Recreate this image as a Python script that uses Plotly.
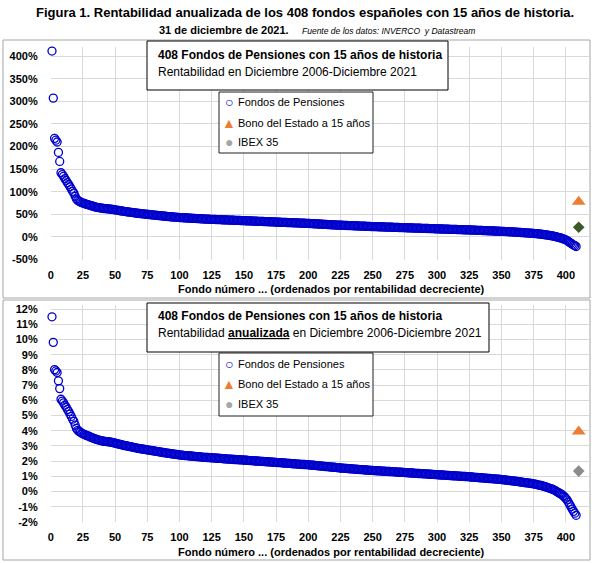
import plotly.graph_objects as go

W, H = 592, 563

# ---------------- data ----------------
fund_cum = [  # cumulative return Dec 2006 - Dec 2021, %
    411, 307, 218, 214, 210, 187, 167, 142, 138, 134, 129, 125, 120, 116, 111, 106, 101, 97, 90, 84, 81, 79, 77.5, 76, 75,
    74, 73, 72, 71.5, 70.5, 69.5, 68.5, 68, 67, 66, 65.5, 65, 64.5, 64, 63.5, 63, 62.8, 62.5, 62.2, 62, 61.7, 61.3, 61, 60.5, 60,
    59.5, 59, 58.5, 58, 57.5, 57, 56.6, 56.2, 55.8, 55.4, 55, 54.6, 54.2, 53.8, 53.4, 53, 52.6, 52.2, 51.9, 51.6, 51.3, 51, 50.7, 50.4, 50,
    49.7, 49.4, 49.1, 48.8, 48.5, 48.2, 47.9, 47.6, 47.3, 47, 46.7, 46.4, 46.1, 45.8, 45.5, 45.2, 45, 44.7, 44.5, 44.2, 44, 43.7, 43.5, 43.2, 43,
    42.8, 42.7, 42.5, 42.3, 42.2, 42, 41.8, 41.7, 41.5, 41.3, 41.2, 41, 40.8, 40.7, 40.5, 40.3, 40.2, 40, 39.8, 39.7, 39.5, 39.4, 39.3, 39.1, 39,
    38.9, 38.8, 38.6, 38.5, 38.4, 38.3, 38.2, 38, 37.9, 37.8, 37.7, 37.6, 37.4, 37.3, 37.2, 37.1, 37, 36.8, 36.7, 36.6, 36.5, 36.4, 36.2, 36.1, 36,
    35.9, 35.8, 35.6, 35.5, 35.4, 35.3, 35.2, 35, 34.9, 34.8, 34.7, 34.6, 34.4, 34.3, 34.2, 34.1, 34, 33.8, 33.7, 33.6, 33.5, 33.4, 33.2, 33.1, 33,
    32.9, 32.8, 32.6, 32.5, 32.4, 32.3, 32.2, 32, 31.9, 31.8, 31.7, 31.6, 31.4, 31.3, 31.2, 31.1, 31, 30.8, 30.7, 30.6, 30.5, 30.4, 30.2, 30.1, 30,
    29.8, 29.7, 29.5, 29.3, 29.2, 29, 28.8, 28.7, 28.5, 28.3, 28.2, 28, 27.8, 27.7, 27.5, 27.3, 27.2, 27, 26.8, 26.7, 26.5, 26.4, 26.3, 26.1, 26,
    25.9, 25.8, 25.6, 25.5, 25.4, 25.3, 25.2, 25, 24.9, 24.8, 24.7, 24.6, 24.4, 24.3, 24.2, 24.1, 24, 23.8, 23.7, 23.6, 23.5, 23.4, 23.2, 23.1, 23,
    22.9, 22.8, 22.7, 22.6, 22.5, 22.4, 22.3, 22.2, 22.1, 22, 21.9, 21.8, 21.7, 21.6, 21.5, 21.4, 21.3, 21.2, 21.1, 21, 20.9, 20.8, 20.7, 20.6, 20.5,
    20.4, 20.3, 20.2, 20.1, 20, 19.9, 19.8, 19.7, 19.6, 19.5, 19.4, 19.3, 19.2, 19.1, 19, 18.9, 18.8, 18.7, 18.6, 18.5, 18.4, 18.3, 18.2, 18.1, 18,
    17.9, 17.8, 17.7, 17.6, 17.5, 17.4, 17.3, 17.2, 17.1, 17, 16.9, 16.8, 16.7, 16.6, 16.5, 16.4, 16.3, 16.2, 16.1, 16, 15.9, 15.8, 15.7, 15.6, 15.5,
    15.4, 15.3, 15.1, 15, 14.9, 14.8, 14.7, 14.5, 14.4, 14.3, 14.2, 14.1, 13.9, 13.8, 13.7, 13.6, 13.5, 13.3, 13.2, 13.1, 13, 12.9, 12.7, 12.6, 12.5,
    12.3, 12.2, 12, 11.9, 11.7, 11.5, 11.4, 11.2, 11, 10.9, 10.7, 10.5, 10.3, 10.1, 9.9, 9.7, 9.5, 9.3, 9.1, 8.9, 8.7, 8.5, 8.3, 8.1, 7.9,
    7.6, 7.3, 7.0, 6.7, 6.4, 6.1, 5.7, 5.3, 4.9, 4.5, 4.0, 3.5, 3.0, 2.6, 2.2, 1.5, 0.8, 0.0, -0.7, -1.5, -2.2, -3.0, -4.1, -5.1, -6.5,
    -7.9, -10.0, -12.0, -14.0, -16.0, -17.8, -19.3, -21.0,
]

fund_ann = [  # annualised return, %
    11.49, 9.81, 8.02, 7.93, 7.83, 7.28, 6.77, 6.07, 5.95, 5.83, 5.68, 5.56, 5.40, 5.27, 5.10, 4.94, 4.76, 4.62, 4.37, 4.15, 4.03, 3.96, 3.90, 3.84, 3.80,
    3.76, 3.72, 3.68, 3.66, 3.62, 3.58, 3.54, 3.52, 3.48, 3.44, 3.42, 3.40, 3.37, 3.35, 3.33, 3.31, 3.30, 3.29, 3.28, 3.27, 3.26, 3.24, 3.23, 3.20, 3.18,
    3.16, 3.14, 3.12, 3.10, 3.08, 3.05, 3.03, 3.02, 3.00, 2.98, 2.96, 2.95, 2.93, 2.91, 2.89, 2.88, 2.86, 2.84, 2.83, 2.81, 2.80, 2.79, 2.77, 2.76, 2.74,
    2.73, 2.71, 2.70, 2.69, 2.67, 2.66, 2.64, 2.63, 2.62, 2.60, 2.59, 2.57, 2.56, 2.55, 2.53, 2.52, 2.51, 2.49, 2.48, 2.47, 2.46, 2.45, 2.44, 2.42, 2.41,
    2.40, 2.39, 2.38, 2.37, 2.37, 2.36, 2.35, 2.34, 2.34, 2.33, 2.32, 2.31, 2.30, 2.30, 2.29, 2.28, 2.27, 2.26, 2.25, 2.25, 2.24, 2.24, 2.23, 2.22, 2.22,
    2.21, 2.21, 2.20, 2.19, 2.19, 2.18, 2.18, 2.17, 2.16, 2.16, 2.15, 2.14, 2.14, 2.13, 2.13, 2.12, 2.11, 2.11, 2.10, 2.10, 2.09, 2.09, 2.08, 2.08, 2.07,
    2.06, 2.06, 2.05, 2.04, 2.04, 2.03, 2.03, 2.02, 2.01, 2.01, 2.00, 2.00, 1.99, 1.98, 1.98, 1.97, 1.97, 1.96, 1.95, 1.95, 1.94, 1.94, 1.93, 1.92, 1.92,
    1.91, 1.91, 1.90, 1.89, 1.89, 1.88, 1.87, 1.87, 1.86, 1.85, 1.85, 1.84, 1.83, 1.83, 1.82, 1.81, 1.81, 1.80, 1.79, 1.79, 1.78, 1.78, 1.77, 1.77, 1.76,
    1.75, 1.74, 1.74, 1.73, 1.72, 1.71, 1.70, 1.69, 1.69, 1.68, 1.67, 1.66, 1.65, 1.64, 1.64, 1.63, 1.62, 1.61, 1.60, 1.60, 1.59, 1.58, 1.57, 1.56, 1.55,
    1.54, 1.54, 1.53, 1.52, 1.52, 1.51, 1.50, 1.50, 1.49, 1.48, 1.48, 1.47, 1.46, 1.46, 1.45, 1.44, 1.44, 1.43, 1.42, 1.42, 1.41, 1.41, 1.40, 1.39, 1.39,
    1.38, 1.38, 1.37, 1.37, 1.36, 1.36, 1.35, 1.34, 1.34, 1.33, 1.33, 1.32, 1.32, 1.31, 1.31, 1.30, 1.30, 1.29, 1.28, 1.28, 1.27, 1.27, 1.26, 1.26, 1.25,
    1.24, 1.24, 1.23, 1.23, 1.22, 1.22, 1.21, 1.20, 1.20, 1.19, 1.19, 1.18, 1.18, 1.17, 1.17, 1.16, 1.16, 1.15, 1.14, 1.14, 1.13, 1.13, 1.12, 1.12, 1.11,
    1.10, 1.10, 1.09, 1.09, 1.08, 1.08, 1.07, 1.06, 1.06, 1.05, 1.05, 1.04, 1.04, 1.03, 1.03, 1.02, 1.01, 1.01, 1.00, 1.00, 0.99, 0.99, 0.98, 0.98, 0.97,
    0.96, 0.96, 0.95, 0.94, 0.93, 0.93, 0.92, 0.91, 0.91, 0.90, 0.89, 0.89, 0.88, 0.87, 0.86, 0.86, 0.85, 0.84, 0.84, 0.83, 0.82, 0.82, 0.81, 0.80, 0.79,
    0.78, 0.77, 0.76, 0.75, 0.74, 0.73, 0.72, 0.71, 0.70, 0.69, 0.68, 0.67, 0.66, 0.64, 0.63, 0.62, 0.61, 0.59, 0.58, 0.57, 0.56, 0.55, 0.53, 0.52, 0.51,
    0.49, 0.47, 0.45, 0.43, 0.41, 0.40, 0.37, 0.34, 0.32, 0.29, 0.26, 0.23, 0.20, 0.17, 0.14, 0.10, 0.05, 0.00, -0.05, -0.10, -0.15, -0.20, -0.28, -0.35, -0.45,
    -0.55, -0.70, -0.85, -1.00, -1.16, -1.30, -1.42, -1.56,
]

bench_x = [410]
bono_cum = [78.0]
ibex_cum = [21.5]
bono_ann = [3.95]
ibex_ann = [1.35]

x_ticks = list(range(0, 401, 25))
x_labels = [str(v) for v in x_ticks]
top_y_ticks = [-50, 0, 50, 100, 150, 200, 250, 300, 350, 400]
top_y_labels = ["-50%", "0%", "50%", "100%", "150%", "200%", "250%", "300%", "350%", "400%"]
bot_y_ticks = [-2, -1, 0, 1, 2, 3, 4, 5, 6, 7, 8, 9, 10, 11, 12]
bot_y_labels = ["-2%", "-1%", "0%", "1%", "2%", "3%", "4%", "5%", "6%", "7%", "8%", "9%", "10%", "11%", "12%"]

# ---------------- styling ----------------
FONT = "Liberation Sans, Arial, sans-serif"
BLUE = "#0000cc"
ORANGE = "#ed7d31"
GREEN = "#3a5a2a"
GREY = "#8c8c8c"
LGREY = "#a6a6a6"
GRID = "#d9d9d9"


def px(v):
    return v / W


def py(v):
    return 1 - v / H


fund_x = list(range(1, len(fund_cum) + 1))
fund_x2 = list(range(1, len(fund_ann) + 1))

fund_marker = dict(symbol="circle-open", size=8, color=BLUE, line=dict(width=1.3, color=BLUE))

fig = go.Figure()

# top panel
fig.add_trace(go.Scatter(x=fund_x, y=fund_cum, mode="markers", xaxis="x", yaxis="y",
                         marker=fund_marker, cliponaxis=False, showlegend=False, hoverinfo="skip"))
fig.add_trace(go.Scatter(x=bench_x, y=bono_cum, mode="markers", xaxis="x", yaxis="y",
                         marker=dict(symbol="triangle-up", size=12, color=ORANGE), showlegend=False))
fig.add_trace(go.Scatter(x=bench_x, y=ibex_cum, mode="markers", xaxis="x", yaxis="y",
                         marker=dict(symbol="diamond", size=9, color=GREEN), showlegend=False))
# bottom panel
fig.add_trace(go.Scatter(x=fund_x2, y=fund_ann, mode="markers", xaxis="x2", yaxis="y2",
                         marker=fund_marker, cliponaxis=False, showlegend=False, hoverinfo="skip"))
fig.add_trace(go.Scatter(x=bench_x, y=bono_ann, mode="markers", xaxis="x2", yaxis="y2",
                         marker=dict(symbol="triangle-up", size=12, color=ORANGE), showlegend=False))
fig.add_trace(go.Scatter(x=bench_x, y=ibex_ann, mode="markers", xaxis="x2", yaxis="y2",
                         marker=dict(symbol="diamond", size=9, color=GREY), showlegend=False))

tickfont = dict(family=FONT, size=11, color="#000000", weight="bold")
xcommon = dict(range=[0, 418], tickmode="array", tickvals=x_ticks, ticktext=x_labels,
               showgrid=True, gridcolor=GRID, gridwidth=1,
               zeroline=False, showline=False, ticks="", tickfont=tickfont, automargin=False,
               fixedrange=True, ticklabelstandoff=7)
ycommon = dict(showgrid=True, gridcolor=GRID, gridwidth=1, zeroline=False, showline=False,
               ticks="", tickfont=tickfont, automargin=False, fixedrange=True,
               ticklabelstandoff=12, tickmode="array")

X_DOM = [px(50.7), px(589)]
fig.update_layout(
    width=W, height=H, margin=dict(l=0, r=0, t=0, b=0),
    paper_bgcolor="white", plot_bgcolor="white", showlegend=False,
    xaxis=dict(domain=X_DOM, anchor="y", **xcommon),
    yaxis=dict(domain=[py(259.6), py(47)], anchor="x", range=[-50, 420],
               tickvals=top_y_ticks, ticktext=top_y_labels, **ycommon),
    xaxis2=dict(domain=X_DOM, anchor="y2", **xcommon),
    yaxis2=dict(domain=[py(522), py(304.5)], anchor="x2", range=[-2, 12.3],
                tickvals=bot_y_ticks, ticktext=bot_y_labels, **ycommon),
)

shapes = []
# panel frames
for (y0, y1) in [(40, 298), (300, 560)]:
    shapes.append(dict(type="rect", xref="paper", yref="paper", x0=px(3), x1=px(590), y0=py(y1), y1=py(y0),
                       line=dict(color=LGREY, width=1), fillcolor="rgba(0,0,0,0)", layer="below"))
# header boxes
for (x0, x1, y0, y1) in [(147, 448, 41, 90), (147, 489, 303, 352)]:
    shapes.append(dict(type="rect", xref="paper", yref="paper", x0=px(x0), x1=px(x1), y0=py(y1), y1=py(y0),
                       line=dict(color="#000000", width=1), fillcolor="white", layer="above"))
# legend boxes
for (y0, y1) in [(92, 153), (353, 416)]:
    shapes.append(dict(type="rect", xref="paper", yref="paper", x0=px(219), x1=px(373), y0=py(y1), y1=py(y0),
                       line=dict(color="#202020", width=1), fillcolor="white", layer="above"))
fig.update_layout(shapes=shapes)

ann = []


def txt(x, y, text, size, xanchor="left", color="#000000", family=FONT, weight=None, italic=False):
    f = dict(family=family, size=size, color=color)
    if weight:
        f["weight"] = weight
    if italic:
        f["style"] = "italic"
    ann.append(dict(xref="paper", yref="paper", x=px(x), y=py(y), text=text, showarrow=False,
                    xanchor=xanchor, yanchor="middle", font=f))


# titles
txt(305, 13, "Figura 1. Rentabilidad anualizada de los 408 fondos españoles con 15 años de historia.", 13,
    xanchor="center", weight="bold")
txt(291, 30, "31 de diciembre de 2021.", 11, xanchor="right", weight="bold")
txt(300, 31, "Fuente de los datos: INVERCO\u00a0 y Datastream", 8.5, xanchor="left", italic=True)

# header box texts
txt(156, 55, "408 Fondos de Pensiones con 15 años de historia", 12, weight="bold")
txt(156, 72, "Rentabilidad en Diciembre 2006-Diciembre 2021", 12)
txt(156, 316, "408 Fondos de Pensiones con 15 años de historia", 12, weight="bold")
txt(156, 333, "Rentabilidad <b><u>anualizada</u></b> en Diciembre 2006-Diciembre 2021", 12)

# legends (drawn as text)
for (y1, y2, y3) in [(102, 123, 142), (364, 384, 404)]:
    txt(229, y1, "○", 14, xanchor="center", color=BLUE)
    txt(236, y1, "Fondos de Pensiones", 11)
    txt(229, y2, "▲", 14, xanchor="center", color=ORANGE)
    txt(236, y2, "Bono del Estado a 15 años", 11)
    txt(229, y3, "●", 14, xanchor="center", color=LGREY)
    txt(236, y3, "IBEX 35", 11)

# axis titles
for yy in (289, 552):
    txt(331, yy, "Fondo número ... (ordenados por rentabilidad decreciente)", 11, xanchor="center", weight="bold")

fig.update_layout(annotations=ann)
fig.write_html("out.html", config={"displayModeBar": False},
               post_script="document.body.style.margin='0px';")
